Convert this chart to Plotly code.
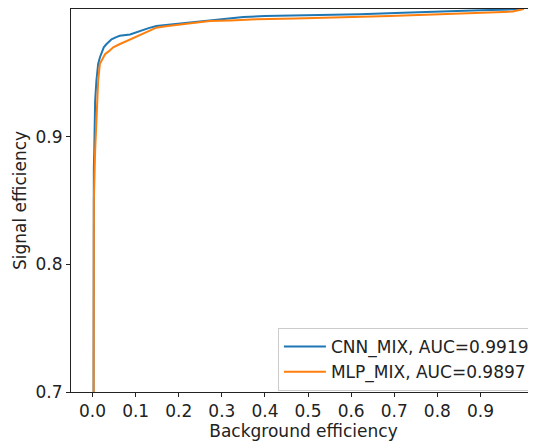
import plotly.graph_objects as go

cnn_fpr = [0, 0.0015, 0.003, 0.004, 0.006, 0.009, 0.013, 0.017, 0.021, 0.026, 0.032, 0.044,
           0.055, 0.063, 0.087, 0.11, 0.13, 0.148, 0.17, 0.195, 0.233, 0.272, 0.31, 0.35,
           0.4, 0.5, 0.62, 0.72, 0.82, 0.9, 0.95, 1.0]
cnn_tpr = [0, 0.85, 0.875, 0.889, 0.928, 0.944, 0.957, 0.962, 0.966, 0.970, 0.9724, 0.9763,
           0.978, 0.979, 0.980, 0.983, 0.985, 0.9867, 0.9875, 0.9885, 0.990, 0.9914, 0.9925, 0.9938,
           0.9945, 0.995, 0.9958, 0.997, 0.9984, 0.999, 0.9995, 1.0]

mlp_fpr = [0, 0.0015, 0.003, 0.006, 0.01, 0.013, 0.017, 0.023, 0.029, 0.038, 0.048, 0.06,
           0.071, 0.094, 0.11, 0.128, 0.148, 0.17, 0.195, 0.23, 0.272, 0.32, 0.38, 0.47,
           0.574, 0.69, 0.806, 0.9, 0.975, 1.0]
mlp_tpr = [0, 0.80, 0.85, 0.889, 0.928, 0.944, 0.957, 0.961, 0.9646, 0.967, 0.970, 0.972,
           0.9737, 0.9776, 0.980, 0.9825, 0.9854, 0.9865, 0.9875, 0.989, 0.9906, 0.991, 0.9919, 0.9925,
           0.9932, 0.9945, 0.9958, 0.997, 0.998, 1.0]

names = ["CNN_MIX, AUC=0.9919", "MLP_MIX, AUC=0.9897"]
colors = ["#1f77b4", "#ff7f0e"]
x_ticks = [0.0, 0.1, 0.2, 0.3, 0.4, 0.5, 0.6, 0.7, 0.8, 0.9]
x_tick_labels = ["0.0", "0.1", "0.2", "0.3", "0.4", "0.5", "0.6", "0.7", "0.8", "0.9"]
y_ticks = [0.7, 0.8, 0.9]
y_tick_labels = ["0.7", "0.8", "0.9"]

font = "DejaVu Sans"
fs = 17
fig = go.Figure()
fig.add_trace(go.Scatter(x=cnn_fpr, y=cnn_tpr, mode="lines", name=names[0],
                         line=dict(color=colors[0], width=2)))
fig.add_trace(go.Scatter(x=mlp_fpr, y=mlp_tpr, mode="lines", name=names[1],
                         line=dict(color=colors[1], width=2)))

# the page body has an 8px margin, so the figure is 8px smaller on each axis
fig.update_layout(
    width=528, height=434,
    margin=dict(l=63, r=0, t=1, b=50, autoexpand=False),
    paper_bgcolor="white", plot_bgcolor="white",
    font=dict(family=font, size=fs, color="#222"),
    showlegend=True,
    legend=dict(x=0.445, y=0.167, xanchor="left", yanchor="top",
                bordercolor="#cccccc", borderwidth=1, bgcolor="white",
                font=dict(family=font, size=fs, color="#222"),
                tracegroupgap=0, itemwidth=42),
    xaxis=dict(range=[-0.05, 1.0289], tickvals=x_ticks, ticktext=x_tick_labels,
               showgrid=False, zeroline=False, showline=True, linecolor="#222", linewidth=1,
               mirror=True, ticks="outside", ticklen=4, tickcolor="#222", automargin=False,
               tickfont=dict(family=font, size=fs, color="#222"),
               title=dict(text="Background efficiency", standoff=2,
                          font=dict(family=font, size=fs, color="#222"))),
    yaxis=dict(range=[0.7, 1.0], tickvals=y_ticks, ticktext=y_tick_labels,
               showgrid=False, zeroline=False, showline=True, linecolor="#222", linewidth=1,
               ticks="outside", ticklen=4, tickcolor="#222", automargin=False,
               tickfont=dict(family=font, size=fs, color="#222"),
               title=dict(text="Signal efficiency", standoff=4,
                          font=dict(family=font, size=fs, color="#222"))),
)
fig.write_html("out.html")
